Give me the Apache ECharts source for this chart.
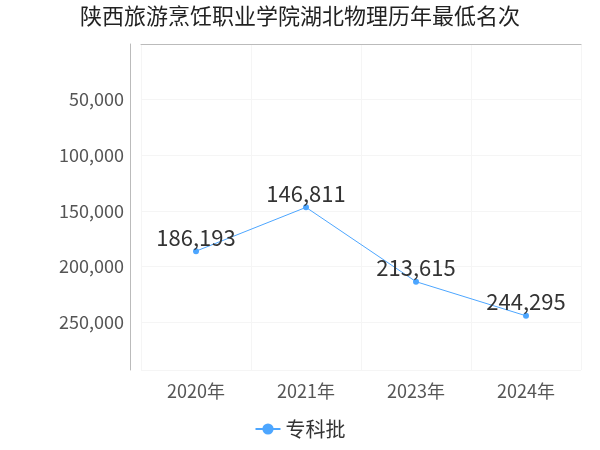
<!DOCTYPE html>
<html><head><meta charset="utf-8">
<script src="https://cdn.jsdelivr.net/npm/echarts@6/dist/echarts.min.js"></script>
</head><body style="margin:0">
<div id="c" style="width:600px;height:450px"></div>
<script>
const categories = ['2020年','2021年','2023年','2024年'];
const values = [186193,146811,213615,244295];
const seriesName = '专科批';
const chart = echarts.init(document.getElementById('c'));
const font = '"Noto Sans CJK SC", "Noto Sans", sans-serif';
chart.setOption({
  textStyle:{fontFamily:font},
  title:{text:'陕西旅游烹饪职业学院湖北物理历年最低名次',left:'center',top:0,textStyle:{fontSize:22,fontWeight:'normal',color:'#222',fontFamily:font}},
  legend:{bottom:6,left:'center',data:[seriesName],textStyle:{fontSize:20,color:'#333'},itemWidth:25,itemHeight:14},
  grid:{left:141,right:19,top:44,bottom:80},
  xAxis:{type:'category',data:categories,boundaryGap:true,
    axisLine:{lineStyle:{color:'#bbb'}},axisTick:{show:false},
    axisLabel:{fontSize:18,color:'#555',margin:12},
    splitLine:{show:true,lineStyle:{color:'#f5f5f5'}}},
  yAxis:{type:'value',inverse:true,min:0,max:293000,interval:50000,offset:11,
    axisLine:{show:true,lineStyle:{color:'#bbb'}},axisTick:{show:false},
    axisLabel:{fontSize:18,color:'#555',showMinLabel:false,showMaxLabel:false,margin:6,
      formatter:v=>v.toLocaleString('en-US')},
    splitLine:{lineStyle:{color:'#f5f5f5'}}},
  series:[{name:seriesName,type:'line',data:values,symbol:'circle',symbolSize:6,
    itemStyle:{color:'#4da6ff'},lineStyle:{width:1,color:'#4da6ff'},
    label:{show:true,position:'top',fontSize:22,color:'#333',formatter:p=>p.value.toLocaleString('en-US'),distance:0}}]
});
</script></body></html>
